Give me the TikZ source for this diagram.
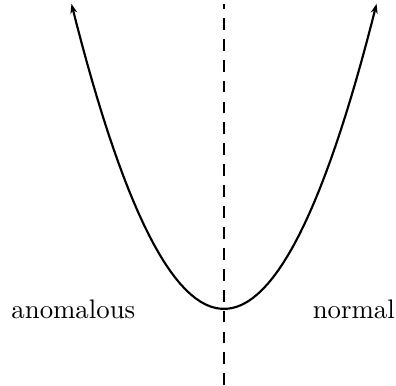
\documentclass[tikz,border=0pt]{standalone}
\usepackage{amsmath,amssymb}
\usepackage{tikz}
\usetikzlibrary{positioning,arrows.meta}

\begin{document}
\begin{tikzpicture}[x=1.0cm,y=1.0cm]
\useasboundingbox (-2.937,-1.01) rectangle (2.255,4.05);
\coordinate (vtx) at (0,0);
\coordinate (top) at (0,4);
\coordinate (bot) at (0,-1);
\draw[thick,dash pattern=on 4.4pt off 3.4pt] (bot) -- (top);
\draw[{Stealth[length=3.6pt,width=2.6pt]}-{Stealth[length=3.6pt,width=2.6pt]},thick,domain=-2:2,samples=60] plot (\x,{\x*\x});
\node[left] (anom) at (-1.04,0) {anomalous};
\node[right] (norm) at (1.04,0) {normal};
\end{tikzpicture}
\end{document}
